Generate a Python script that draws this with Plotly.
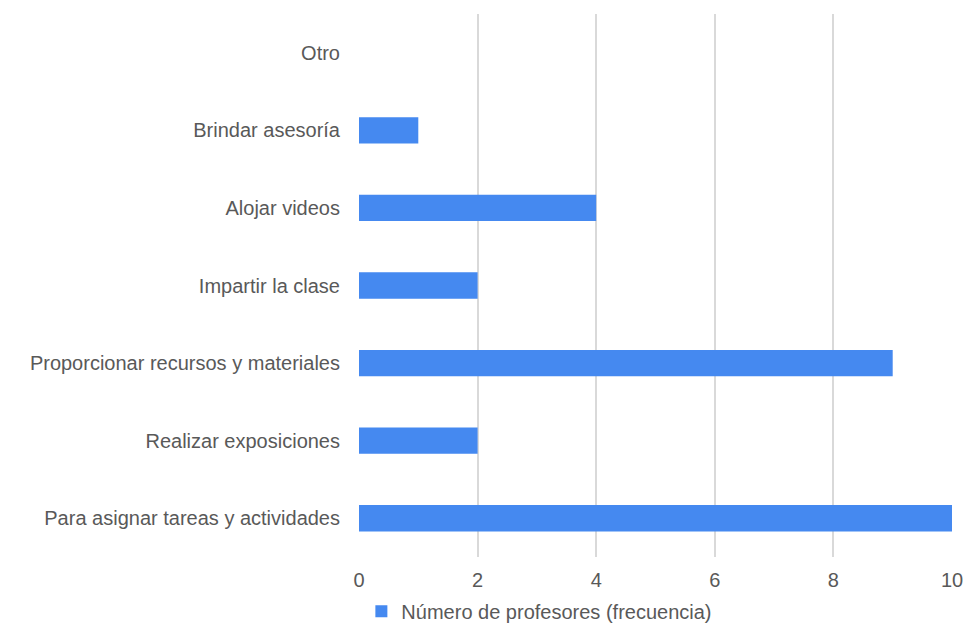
import plotly.graph_objects as go

categories = [
    "Para asignar tareas y actividades",
    "Realizar exposiciones",
    "Proporcionar recursos y materiales",
    "Impartir la clase",
    "Alojar videos",
    "Brindar asesoría",
    "Otro",
]
values = [10, 2, 9, 2, 4, 1, 0]
series_name = "Número de profesores (frecuencia)"
x_ticks = [0, 2, 4, 6, 8, 10]

FONT = "Liberation Sans, Arial, sans-serif"
TXT = "#595959"

fig = go.Figure()
fig.add_trace(go.Bar(
    y=categories,
    x=values,
    orientation="h",
    name=series_name,
    marker=dict(color="#4589f0", line=dict(width=0)),
    width=0.34,
    showlegend=True,
))

fig.update_layout(
    width=965,
    height=626,
    paper_bgcolor="white",
    plot_bgcolor="white",
    margin=dict(l=359, r=13, t=14, b=69, autoexpand=False),
    font=dict(family=FONT, size=20, color=TXT),
    showlegend=True,
    legend=dict(
        orientation="h",
        x=0.004,
        xanchor="left",
        y=-0.1,
        yanchor="middle",
        font=dict(family=FONT, size=20, color=TXT),
        itemwidth=30,
    ),
    xaxis=dict(
        range=[0, 10],
        tickvals=x_ticks,
        showgrid=True,
        gridcolor="#d9d9d9",
        gridwidth=1.5,
        zeroline=False,
        showline=False,
        ticks="",
        ticklabelstandoff=9,
        tickfont=dict(family=FONT, size=20, color=TXT),
    ),
    yaxis=dict(
        categoryorder="array",
        categoryarray=categories,
        showgrid=False,
        zeroline=False,
        showline=False,
        ticks="",
        ticklabelstandoff=18,
        tickfont=dict(family=FONT, size=20, color=TXT),
    ),
)

fig.write_html(
    "out.html",
    config={"displayModeBar": False},
    post_script="document.body.style.margin='0';document.body.style.overflow='hidden';",
)
